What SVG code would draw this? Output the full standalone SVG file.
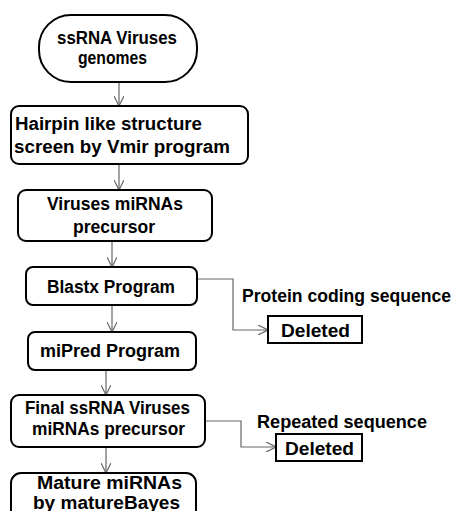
<svg xmlns="http://www.w3.org/2000/svg" width="457" height="511" viewBox="0 0 457 511">
<defs>
<marker id="arr" viewBox="0 0 10 10" refX="10" refY="5" markerWidth="10" markerHeight="10" markerUnits="userSpaceOnUse" orient="auto">
<path d="M0,0 L10,5 L0,10" fill="none" stroke="#666" stroke-width="1.2"/>
</marker>
<style>
.box{fill:#fff;stroke:#000;stroke-width:2}
.t{font-family:"Liberation Sans",Arial,sans-serif;font-weight:bold;font-size:17.5px;fill:#000}
.c{fill:none;stroke:#666;stroke-width:1.2;marker-end:url(#arr)}
</style>
</defs>
<rect width="457" height="511" fill="#fff"/>
<g id="connectors">
<path class="c" d="M119,82 V106"/>
<path class="c" d="M119,164 V190"/>
<path class="c" d="M112,241 V267"/>
<path class="c" d="M112,305 V332"/>
<path class="c" d="M106,370 V395"/>
<path class="c" d="M106,447 V473"/>
<path class="c" d="M197,279 H233 V330 H268"/>
<path class="c" d="M205,421 H241 V447 H276"/>
</g>
<g id="n1">
<rect class="box" x="39" y="15" width="158" height="67" rx="32" ry="32"/>
<text class="t" x="57" y="44" textLength="120" lengthAdjust="spacingAndGlyphs">ssRNA Viruses</text>
<text class="t" x="78" y="64" textLength="69" lengthAdjust="spacingAndGlyphs">genomes</text>
</g>
<g id="n2">
<rect class="box" x="11" y="106" width="237" height="58" rx="8" ry="8"/>
<text class="t" x="15" y="130" textLength="187" lengthAdjust="spacingAndGlyphs">Hairpin like structure</text>
<text class="t" x="14" y="153" textLength="216" lengthAdjust="spacingAndGlyphs">screen by Vmir program</text>
</g>
<g id="n3">
<rect class="box" x="18" y="190" width="194" height="51" rx="8" ry="8"/>
<text class="t" x="47" y="210" textLength="136" lengthAdjust="spacingAndGlyphs">Viruses miRNAs</text>
<text class="t" x="73" y="233" textLength="82" lengthAdjust="spacingAndGlyphs">precursor</text>
</g>
<g id="n4">
<rect class="box" x="26" y="267" width="171" height="38" rx="7" ry="7"/>
<text class="t" x="47" y="293" textLength="128" lengthAdjust="spacingAndGlyphs">Blastx Program</text>
</g>
<g id="n5">
<rect class="box" x="28" y="332" width="168" height="38" rx="7" ry="7"/>
<text class="t" x="40" y="357" textLength="140" lengthAdjust="spacingAndGlyphs">miPred Program</text>
</g>
<g id="n6">
<rect class="box" x="11" y="395" width="194" height="52" rx="8" ry="8"/>
<text class="t" x="25" y="414" textLength="165" lengthAdjust="spacingAndGlyphs">Final ssRNA Viruses</text>
<text class="t" x="32" y="435" textLength="153" lengthAdjust="spacingAndGlyphs">miRNAs precursor</text>
</g>
<g id="n7">
<rect class="box" x="11" y="473" width="185" height="60" rx="10" ry="10"/>
<text class="t" x="37" y="489" textLength="145" lengthAdjust="spacingAndGlyphs">Mature miRNAs</text>
<text class="t" x="33" y="509" textLength="147" lengthAdjust="spacingAndGlyphs">by matureBayes</text>
</g>
<g id="lbl1">
<text class="t" x="242" y="302" textLength="209" lengthAdjust="spacingAndGlyphs">Protein coding sequence</text>
</g>
<g id="d1">
<rect class="box" x="268" y="316" width="94" height="27"/>
<text class="t" x="281" y="337" textLength="69" lengthAdjust="spacingAndGlyphs">Deleted</text>
</g>
<g id="lbl2">
<text class="t" x="257" y="428" textLength="170" lengthAdjust="spacingAndGlyphs">Repeated sequence</text>
</g>
<g id="d2">
<rect class="box" x="276" y="434" width="86" height="27"/>
<text class="t" x="285" y="455" textLength="69" lengthAdjust="spacingAndGlyphs">Deleted</text>
</g>
</svg>
